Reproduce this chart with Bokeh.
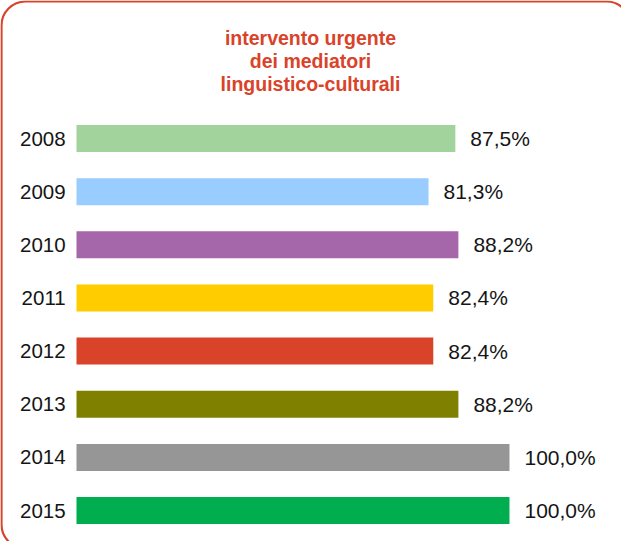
from bokeh.plotting import figure
from bokeh.models import ColumnDataSource, Range1d, BoxAnnotation, Label
from bokeh.core.properties import value
from bokeh.embed import file_html
from bokeh.resources import INLINE

years = ["2008", "2009", "2010", "2011", "2012", "2013", "2014", "2015"]
values = [87.5, 81.3, 88.2, 82.4, 82.4, 88.2, 100.0, 100.0]
labels = ["87,5%", "81,3%", "88,2%", "82,4%", "82,4%", "88,2%", "100,0%", "100,0%"]
colors = ["#a3d39c", "#99ccff", "#a666aa", "#ffcc00", "#d9432a", "#808000", "#969696", "#00ae4f"]
title_lines = ["intervento urgente", "dei mediatori", "linguistico-culturali"]

W, H = 621, 541
pos = [len(years) - 1 - i for i in range(len(years))]

src = ColumnDataSource(dict(y=pos, v=values, lab=labels, yr=years, c=colors,
                            zero=[0] * len(years)))

p = figure(width=W, height=H, output_backend="svg", toolbar_location=None,
           x_range=Range1d(-17.55, 125.87), y_range=Range1d(-0.583, 9.598),
           min_border=0, outline_line_color=None)
p.axis.visible = False
p.grid.visible = False
p.background_fill_color = "white"
p.border_fill_color = "white"

p.hbar(y="y", left="zero", right="v", height=0.508, color="c", source=src, line_color=None)

p.text(x="v", y="y", text="lab", source=src, x_offset=15, text_align="left",
       text_baseline="middle", text_font=value("Liberation Sans"),
       text_font_size="21px", text_color="#151515")
p.text(x=-2.5, y="y", text="yr", source=src, text_align="right",
       text_baseline="middle", text_font=value("Liberation Sans"),
       text_font_size="20.5px", text_color="#151515")

for i, t in enumerate(title_lines):
    p.add_layout(Label(x=310, y=H - 37 - 23 * i, x_units="screen", y_units="screen",
                       text=t, text_align="center", text_baseline="alphabetic",
                       text_font="Liberation Sans", text_font_size="19.5px",
                       text_font_style="bold", text_color="#d9432a"))

box = BoxAnnotation(left=1, right=630, top=1, bottom=548,
                    left_units="canvas", right_units="canvas",
                    top_units="canvas", bottom_units="canvas",
                    fill_color=None, fill_alpha=0, line_color="#d9432a",
                    line_alpha=1, line_width=2.2, border_radius=24)
p.add_layout(box)

open("out.html", "w").write(file_html(p, INLINE))
